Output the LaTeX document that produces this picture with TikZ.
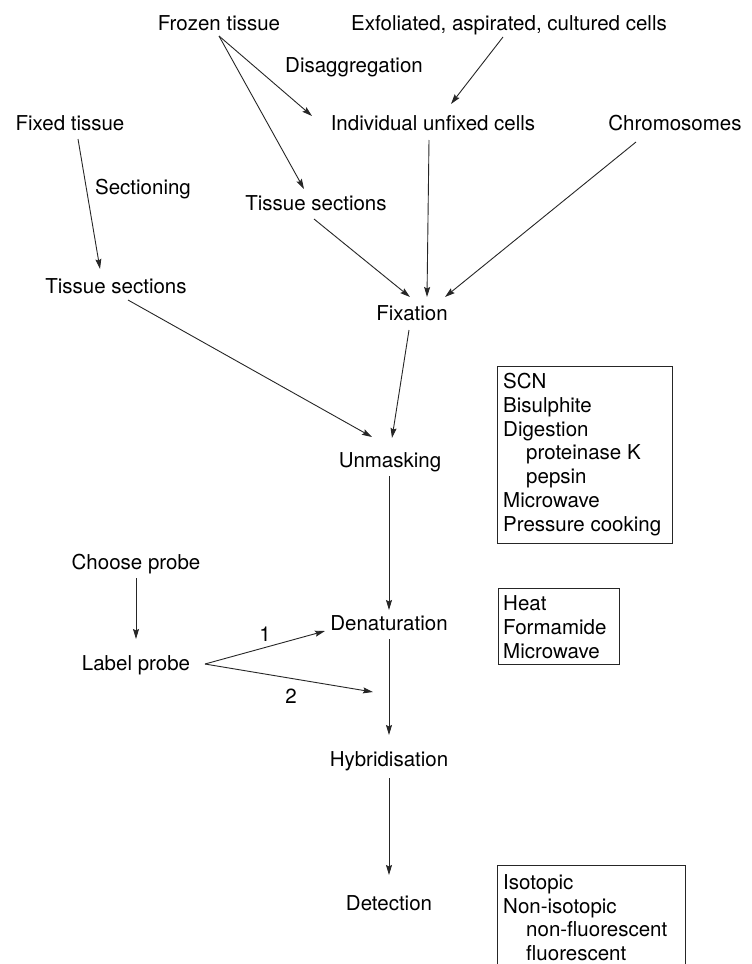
\documentclass[tikz,border=0pt]{standalone}
\usepackage{fontspec}
\setmainfont{TeX Gyre Heros}
\usetikzlibrary{arrows.meta,calc}
\begin{document}
\begin{tikzpicture}[x=1pt,y=-1pt,
  lbl/.style={inner sep=0pt, text height=14.7pt, text depth=0pt, font=\fontsize{20.5}{24}\selectfont},
  boxline/.style={inner sep=0pt, anchor=base west, font=\fontsize{20.5}{24}\selectfont},
  frame/.style={draw=black!85, line width=0.9pt, inner sep=0pt, anchor=north west},
  arr/.style={draw=black!85, line width=0.9pt, -{Stealth[length=10pt,width=6pt,inset=1.5pt]}}]
\useasboundingbox (0,0) rectangle (752,964);
% main labels
\node[lbl] (ft)  at (219,23)  {Frozen tissue};
\node[lbl] (ex)  at (509,23)  {Exfoliated, aspirated, cultured cells};
\node[lbl] (dis) at (354,65)  {Disaggregation};
\node[lbl] (fx)  at (70,123)  {Fixed tissue};
\node[lbl] (iuc) at (433,123) {Individual unfixed cells};
\node[lbl] (chr) at (675,123) {Chromosomes};
\node[lbl] (sec) at (143,187) {Sectioning};
\node[lbl] (tsm) at (316,203) {Tissue sections};
\node[lbl] (tsl) at (116,286) {Tissue sections};
\node[lbl] (fix) at (412,313) {Fixation};
\node[lbl] (unm) at (390,460) {Unmasking};
\node[lbl] (cp)  at (136,562) {Choose probe};
\node[lbl] (lp)  at (136,663) {Label probe};
\node[lbl] (den) at (389,623) {Denaturation};
\node[lbl] (hyb) at (389,759) {Hybridisation};
\node[lbl] (det) at (389,903) {Detection};
\node[lbl] (one) at (265,634) {1};
\node[lbl] (two) at (291,696) {2};
\coordinate (end2) at (373,692);
% boxes
\node[frame, minimum width=175pt, minimum height=177pt] (box1) at (497,366) {};
\node[boxline] (b1a) at (503,388.4) {SCN};
\node[boxline] (b1b) at (503,412.2) {Bisulphite};
\node[boxline] (b1c) at (503,436.0) {Digestion};
\node[boxline] (b1d) at (526,459.8) {proteinase K};
\node[boxline] (b1e) at (526,483.6) {pepsin};
\node[boxline] (b1f) at (503,507.4) {Microwave};
\node[boxline] (b1g) at (503,531.2) {Pressure cooking};
\node[frame, minimum width=121pt, minimum height=76pt] (box2) at (498,588) {};
\node[boxline] (b2a) at (503,610.4) {Heat};
\node[boxline] (b2b) at (503,634.4) {Formamide};
\node[boxline] (b2c) at (503,658.4) {Microwave};
\draw[draw=black!85, line width=0.9pt] (497,970) |- (685,865) -- (685,970);
\node[boxline] (b3a) at (503,889.5) {Isotopic};
\node[boxline] (b3b) at (503,913.0) {Non-isotopic};
\node[boxline] (b3c) at (526,936.7) {non-fluorescent};
\node[boxline] (b3d) at (526,960.4) {fluorescent};
% connectors
\draw[arr] ($(ft)+(0,13)$) -- ($(iuc)+(-121,-7)$);
\draw[arr] ($(ft)+(0,13)$) -- ($(tsm)+(-12,-14)$);
\draw[arr] ($(ex)+(-6,14)$) -- ($(iuc)+(18,-19)$);
\draw[arr] ($(iuc)+(-4,17)$) -- ($(fix)+(15,-16)$);
\draw[arr] ($(chr)+(-39,19)$) -- ($(fix)+(33,-16)$);
\draw[arr] ($(tsm)+(-2,16)$) -- ($(fix)+(-2,-16)$);
\draw[arr] ($(fx)+(8,16)$) -- ($(tsl)+(-16,-17)$);
\draw[arr] ($(tsl)+(12,14)$) -- ($(unm)+(-18,-23)$);
\draw[arr] ($(fix)+(-3,17)$) -- ($(unm)+(2,-22)$);
\draw[arr] ($(unm)+(-1,16)$) -- ($(den)+(0,-13)$);
\draw[arr] ($(cp)+(0,16)$) -- ($(lp)+(0,-24)$);
\draw[arr] ($(lp)+(69,1)$) -- ($(den)+(-64,8)$);
\draw[arr] ($(lp)+(69,1)$) -- (end2);
\draw[arr] ($(den)+(0,16)$) -- ($(hyb)+(0,-24)$);
\draw[arr] ($(hyb)+(0,19)$) -- ($(det)+(0,-28)$);
\end{tikzpicture}
\end{document}
